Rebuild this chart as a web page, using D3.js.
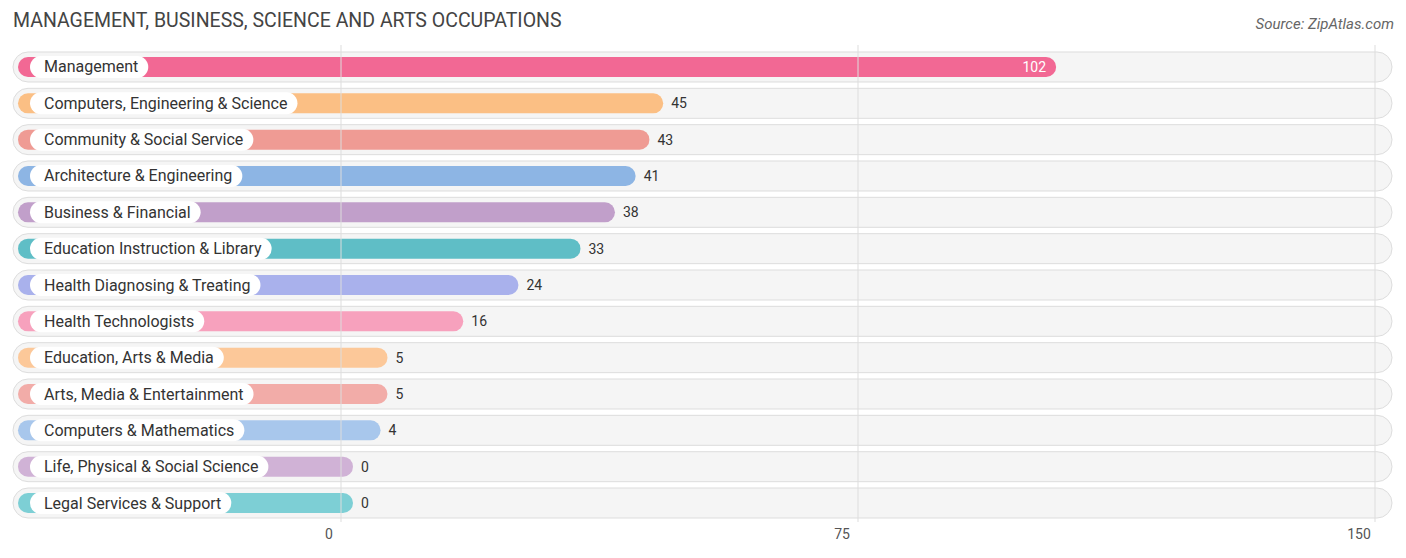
<!DOCTYPE html><html><head><meta charset="utf-8">
<script src="https://cdn.jsdelivr.net/npm/d3@7"></script>
<style>body{margin:0;background:#fff;font-family:Roboto,"Open Sans",sans-serif}</style></head><body>
<svg id="c" width="1406" height="558"></svg>
<script>
const categories=["Management","Computers, Engineering & Science","Community & Social Service","Architecture & Engineering","Business & Financial","Education Instruction & Library","Health Diagnosing & Treating","Health Technologists","Education, Arts & Media","Arts, Media & Entertainment","Computers & Mathematics","Life, Physical & Social Science","Legal Services & Support"];
const values=[102,45,43,41,38,33,24,16,5,5,4,0,0];
const colors=["#f26894","#fbbf84","#ef9b94","#8db5e4","#c19fca","#5fbec6","#a9b1ec","#f7a1bd","#fcc899","#f2aca8","#a8c7ec","#d0b2d6","#7dcfd5"];
const ticks=[0,75,150];
const svg=d3.select("#c");
const x=d3.scaleLinear().domain([0,150]).range([341,1375]);
const y=d3.scaleBand().domain(categories).range([49,521]).paddingInner(0.17).paddingOuter(0.08);
svg.append("text").attr("x",13).attr("y",27).attr("font-size",19.5).attr("fill","#444").text("MANAGEMENT, BUSINESS, SCIENCE AND ARTS OCCUPATIONS");
svg.append("text").attr("x",1394).attr("y",29).attr("text-anchor","end").attr("font-size",15).attr("font-style","italic").attr("fill","#666").text("Source: ZipAtlas.com");
const g=svg.append("g");
categories.forEach((c,i)=>{
  const cy=y(c)+y.bandwidth()/2;
  g.append("rect").attr("x",13).attr("y",cy-15).attr("width",1379).attr("height",30).attr("rx",15).attr("fill","#f5f5f5").attr("stroke","#ddd");
});
svg.selectAll(".grid").data(ticks).join("line").attr("x1",d=>x(d)).attr("x2",d=>x(d)).attr("y1",45).attr("y2",522).attr("stroke","#ddd");
svg.selectAll(".tk").data(ticks).join("text").attr("x",d=>x(d)-(d===0?12:16)).attr("y",539).attr("text-anchor","middle").attr("font-size",14).attr("fill","#555").text(d=>d);
categories.forEach((c,i)=>{
  const cy=y(c)+y.bandwidth()/2, v=values[i], end=x(v)+12;
  g.append("rect").attr("x",18).attr("y",cy-10).attr("width",end-18).attr("height",20).attr("rx",10).attr("fill",colors[i]);
  const t=g.append("text").attr("x",44).attr("y",cy+5.5).attr("font-size",16).attr("fill","#333").text(c);
  const w=t.node().getComputedTextLength();
  g.insert("rect","text:last-of-type").attr("x",30).attr("y",cy-11).attr("width",w+24).attr("height",22).attr("rx",11).attr("fill","#fff");
  t.raise();
  if(v>80) g.append("text").attr("x",end-10).attr("y",cy+5).attr("text-anchor","end").attr("font-size",14).attr("fill","#fff").text(v);
  else g.append("text").attr("x",end+8).attr("y",cy+5).attr("font-size",14).attr("fill","#333").text(v);
});
</script></body></html>
